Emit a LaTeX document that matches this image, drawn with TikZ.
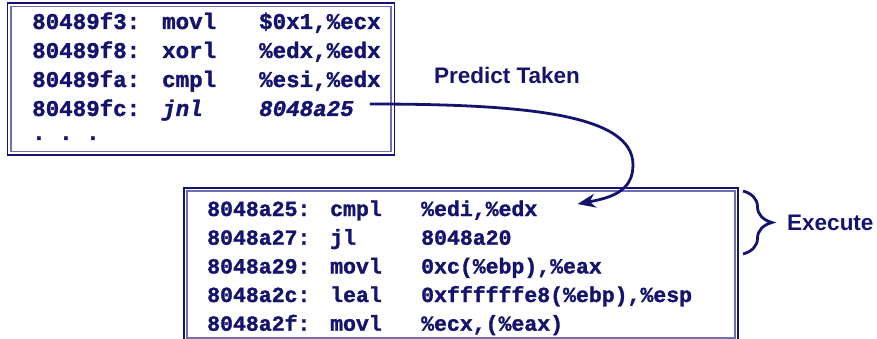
\documentclass[tikz,border=0pt]{standalone}
\usepackage{fontspec}
\setmainfont{Liberation Sans}
\setmonofont{Liberation Mono}[BoldFeatures={FakeBold=1.5},BoldItalicFeatures={FakeBold=1.5}]
\usetikzlibrary{calc}
\usetikzlibrary{positioning, arrows.meta, decorations.pathreplacing}
\definecolor{navy}{RGB}{20,20,110}
\definecolor{paleblue}{RGB}{110,110,180}
\newlength\Addrwd
\newlength\Opwd
\newcommand\CodeRow[3]{%
  \makebox[\Addrwd][l]{#1}\makebox[\Opwd][l]{#2}#3}

\begin{document}
\begin{tikzpicture}[x=1pt,y=-1pt,
asm/.style={anchor=base west, inner sep=0pt, text=navy},
asmA/.style={asm,
  font=\ttfamily\bfseries\fontsize{22.5}{27}\selectfont,
  execute at begin node={\setlength\Addrwd{130pt}\setlength\Opwd{97pt}}},
asmB/.style={asm,
  font=\ttfamily\bfseries\fontsize{21.5}{26}\selectfont,
  execute at begin node={\setlength\Addrwd{123pt}\setlength\Opwd{91pt}}},
tag/.style={text=navy, inner sep=0pt,
  font=\bfseries\fontsize{22.5}{27}\selectfont},
outline/.style={draw=navy, line width=1.3pt},
inline/.style={draw=paleblue, line width=1.3pt},
thickline/.style={navy, line width=2.8pt}
]
\useasboundingbox (0,0) rectangle (877,339);

% first block
\draw[outline] (7.5,3) rectangle (394.5,155);
\draw[inline] (11,6.5) rectangle (391,151.5);
\node[asmA] (a1) at (32,29) {\CodeRow{80489f3:}{movl}{\$0x1,\%ecx}};
\node[asmA] (a2) at (32,58) {\CodeRow{80489f8:}{xorl}{\%edx,\%edx}};
\node[asmA] (a3) at (32,87) {\CodeRow{80489fa:}{cmpl}{\%esi,\%edx}};
\node[asmA] (a4) at (32,116) {\CodeRow{80489fc:}{\itshape jnl}{\itshape 8048a25}};
\node[asmA] (a5) at (32,140) {. . .};

% second block
\draw[outline] (184,188) rectangle (738,341);
\draw[inline] (187,191) rectangle (735,338);
\node[asmB] (b1) at (207,216) {\CodeRow{8048a25:}{cmpl}{\%edi,\%edx}};
\node[asmB] (b2) at (207,244.7) {\CodeRow{8048a27:}{jl}{8048a20}};
\node[asmB] (b3) at (207,273.4) {\CodeRow{8048a29:}{movl}{0xc(\%ebp),\%eax}};
\node[asmB] (b4) at (207,302) {\CodeRow{8048a2c:}{leal}{0xffffffe8(\%ebp),\%esp}};
\node[asmB] (b5) at (207,330.7) {\CodeRow{8048a2f:}{movl}{\%ecx,(\%eax)}};

\node[tag] (pt) at (507,75.5) {Predict Taken};
\node[tag, anchor=west] (ex) at (787,223) {Execute};

\coordinate (tail) at ($(a4.base east)+(16,-12)$);
\coordinate (head) at ($(b1.base east)+(40,-12)$);
\draw[thickline, -{Stealth[length=18pt,width=14pt]}] (tail)
  .. controls +(160,0) and +(0,-50) .. (633,165)
  .. controls +(0,27) and +(32,-6) .. (head);

\draw[thickline, decorate, decoration={brace, amplitude=29pt}]
  (743,191) -- (743,254);
\end{tikzpicture}
\end{document}
